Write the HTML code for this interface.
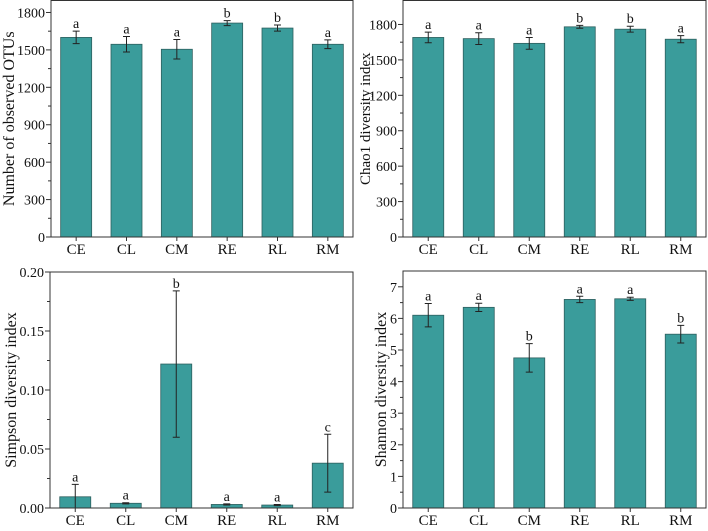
<!DOCTYPE html>
<html><head><meta charset="utf-8"><style>
body{margin:0;background:#fff;}
svg{display:block;font-family:"Liberation Serif",serif;}
</style></head><body>
<svg id="c" width="708" height="531" viewBox="0 0 708 531"></svg>
<script>
const categories=["CE","CL","CM","RE","RL","RM"];
const otuValues=[1600,1545,1505,1715,1675,1545];
const otuErrors=[50,62,78,20,25,35];
const otuLetters=["a","a","a","b","b","a"];
const otuTicks=[0,300,600,900,1200,1500,1800];
const chaoValues=[1690,1680,1640,1780,1760,1675];
const chaoErrors=[45,50,50,12,25,30];
const chaoLetters=["a","a","a","b","b","a"];
const chaoTicks=[0,300,600,900,1200,1500,1800];
const simpValues=[0.0095,0.004,0.122,0.003,0.0025,0.038];
const simpErrors=[0.0105,0.0005,0.062,0.0005,0.0005,0.0245];
const simpLetters=["a","a","b","a","a","c"];
const simpTicks=["0.00","0.05","0.10","0.15","0.20"];
const shanValues=[6.1,6.35,4.75,6.6,6.62,5.5];
const shanErrors=[0.37,0.13,0.45,0.1,0.05,0.28];
const shanLetters=["a","a","b","a","a","b"];
const shanTicks=["0","1","2","3","4","5","6","7"];

const svg=document.getElementById('c');
const NS="http://www.w3.org/2000/svg";
function mk(t,a,p){const e=document.createElementNS(NS,t);for(const k in a)e.setAttribute(k,a[k]);(p||svg).appendChild(e);return e;}

function panel(o){
  const g=mk('g',{});
  
  
  const y=v=>o.y0-(v-0)/(o.max)*(o.y0-o.top);
  const step=(o.right-o.left)/6;
  const x=i=>o.left+step*(i+0.5);
  o.values.forEach((v,i)=>{
    const r=mk('rect',{x:x(i)-15.5,y:y(v),width:31,height:o.y0-y(v),fill:'#3a9c9b',stroke:'#2d5f5e','stroke-width':0.8},g);
    
    
    const hi=y(v+o.errors[i]),lo=y(Math.max(0,v-o.errors[i]));
    const eb=mk('path',{d:`M${x(i)},${hi}V${lo}M${x(i)-3.5},${hi}H${x(i)+3.5}M${x(i)-3.5},${lo}H${x(i)+3.5}`,stroke:'#222','stroke-width':1,fill:'none'},g);
    
    
    const t=mk('text',{x:x(i),y:hi-3,'font-size':14,'text-anchor':'middle',fill:'#111'},g);
    t.textContent=o.letters[i];
    
    
    const xl=mk('text',{x:x(i),y:o.y0+17,'font-size':15,'text-anchor':'middle',fill:'#111'},g);
    xl.textContent=categories[i];
    
    
    mk('line',{x1:x(i),x2:x(i),y1:o.y0,y2:o.y0+4,stroke:'#333'},g);
  });
  const f=mk('rect',{x:o.left,y:o.top,width:o.right-o.left,height:o.y0-o.top,fill:'none',stroke:'#333','stroke-width':1},g);
  
  
  const n=o.ticks.length;
  o.ticks.forEach((tk,i)=>{
    const v=parseFloat(tk), yy=y(v);
    mk('line',{x1:o.left-5,x2:o.left,y1:yy,y2:yy,stroke:'#333'},g);
    if(i<n-1){const v2=parseFloat(o.ticks[i+1]);const ym=y((v+v2)/2);mk('line',{x1:o.left-3,x2:o.left,y1:ym,y2:ym,stroke:'#333'},g);}
    const t=mk('text',{x:o.left-6,y:yy+5,'font-size':14,'text-anchor':'end',fill:'#111'},g);
    t.textContent=tk;
    
    
  });
  const cy=(o.top+o.y0)/2;
  const tt=mk('text',{x:o.titleX,y:cy,'font-size':o.tfs||16,'text-anchor':'middle',fill:'#111',transform:`rotate(-90 ${o.titleX} ${cy})`},g);
  tt.textContent=o.title;
  
  
}
panel({name:'observed-otus-panel',left:51,right:353,top:0.5,y0:237,max:1896,values:otuValues,errors:otuErrors,letters:otuLetters,ticks:otuTicks.map(String),title:'Number of observed OTUs',titleX:14});
panel({name:'chao1-panel',left:403,right:706,top:0.5,y0:237,max:2003,values:chaoValues,errors:chaoErrors,letters:chaoLetters,ticks:chaoTicks.map(String),title:'Chao1 diversity index',titleX:370,tfs:15});
panel({name:'simpson-panel',left:50,right:353,top:272,y0:508,max:0.2,values:simpValues,errors:simpErrors,letters:simpLetters,ticks:simpTicks,title:'Simpson diversity index',titleX:16});
panel({name:'shannon-panel',left:403,right:706,top:271,y0:508,max:7.5,values:shanValues,errors:shanErrors,letters:shanLetters,ticks:shanTicks,title:'Shannon diversity index',titleX:386});
</script>
</body></html>
